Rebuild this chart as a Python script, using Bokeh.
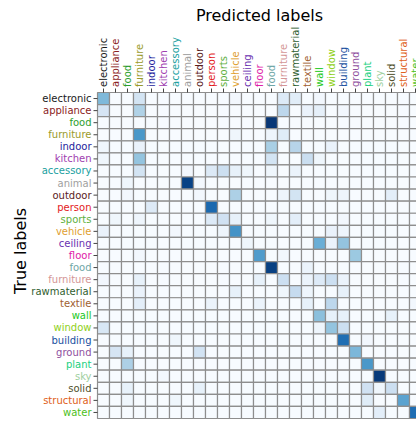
import numpy as np
from math import pi

from bokeh.plotting import figure
from bokeh.models import ColumnDataSource, Range1d, LinearColorMapper
from bokeh.palettes import Blues256
from bokeh.transform import transform
from bokeh.core.properties import value
from bokeh.embed import file_html
from bokeh.resources import INLINE

# Class names (rows = true, columns = predicted) and their label colours
classes = ["electronic", "appliance", "food", "furniture", "indoor", "kitchen",
           "accessory", "animal", "outdoor", "person", "sports", "vehicle",
           "ceiling", "floor", "food", "furniture", "rawmaterial", "textile",
           "wall", "window", "building", "ground", "plant", "sky", "solid",
           "structural", "water"]
class_colors = ["#1a1a1a", "#8b2323", "#2e9e2e", "#9a9a2a", "#23239c", "#a040b0",
                "#20a0a0", "#a0a0a0", "#5a1c1c", "#e31a1c", "#5fb040", "#e0a030",
                "#6a30b0", "#e020a8", "#6fa6a6", "#d49696", "#2f6030", "#a06030",
                "#22c822", "#8fd020", "#2050a0", "#9050a0", "#20d080", "#a0d0a0",
                "#4f4f2a", "#e06020", "#4cc020"]

# Normalised confusion rates (sparse: true index, predicted index, rate)
true_idx = [0, 0, 0, 0, 0, 0,
            1, 1, 1, 1, 1, 1,
            2,
            3, 3, 3, 3,
            4, 4, 4, 4, 4,
            5, 5, 5, 5, 5,
            6, 6, 6, 6, 6, 6, 6, 6,
            7, 7, 7,
            8, 8, 8, 8, 8, 8, 8, 8,
            9, 9,
            10, 10, 10, 10, 10, 10, 10, 10,
            11, 11, 11, 11, 11, 11,
            12, 12, 12, 12,
            13, 13, 13, 13,
            14, 14,
            15, 15, 15, 15, 15, 15, 15, 15,
            16, 16, 16, 16, 16, 16,
            17, 17, 17, 17, 17, 17,
            18, 18, 18, 18,
            19, 19, 19, 19,
            20, 20, 20,
            21, 21, 21, 21,
            22, 22,
            23, 23,
            24, 24, 24, 24, 24,
            25, 25, 25, 25,
            26, 26]
pred_idx = [0, 3, 11, 15, 16, 18,
            0, 3, 15, 17, 18, 20,
            14,
            3, 11, 14, 15,
            0, 3, 14, 16, 19,
            0, 3, 14, 17, 18,
            3, 7, 9, 10, 11, 12, 14, 16,
            2, 7, 8,
            2, 8, 11, 15, 16, 19, 20, 24,
            4, 9,
            1, 3, 9, 10, 11, 14, 16, 20,
            0, 6, 10, 11, 19, 20,
            12, 18, 19, 20,
            3, 13, 15, 21,
            14, 17,
            0, 3, 13, 15, 17, 18, 19, 20,
            3, 11, 15, 16, 17, 20,
            3, 9, 13, 17, 19, 26,
            18, 19, 20, 24,
            0, 18, 19, 20,
            6, 20, 22,
            1, 2, 8, 21,
            2, 22,
            5, 23,
            2, 8, 22, 23, 24,
            2, 6, 22, 25,
            23, 26]
rates = [0.45, 0.18, 0.03, 0.13, 0.11, 0.03,
         0.17, 0.32, 0.28, 0.07, 0.09, 0.03,
         0.97,
         0.60, 0.04, 0.05, 0.12,
         0.04, 0.07, 0.34, 0.30, 0.07,
         0.04, 0.40, 0.18, 0.23, 0.04,
         0.18, 0.03, 0.14, 0.22, 0.08, 0.04, 0.04, 0.06,
         0.04, 0.93, 0.03,
         0.03, 0.03, 0.33, 0.05, 0.18, 0.04, 0.05, 0.10,
         0.13, 0.78,
         0.04, 0.05, 0.13, 0.20, 0.08, 0.04, 0.10, 0.03,
         0.07, 0.03, 0.05, 0.62, 0.07, 0.05,
         0.04, 0.50, 0.06, 0.40,
         0.03, 0.58, 0.03, 0.38,
         0.94, 0.06,
         0.03, 0.08, 0.08, 0.22, 0.06, 0.13, 0.22, 0.06,
         0.07, 0.08, 0.04, 0.25, 0.05, 0.08,
         0.10, 0.06, 0.06, 0.08, 0.28, 0.03,
         0.42, 0.08, 0.08, 0.08,
         0.16, 0.05, 0.40, 0.22,
         0.04, 0.76, 0.03,
         0.17, 0.08, 0.19, 0.46,
         0.33, 0.60,
         0.02, 0.96,
         0.08, 0.08, 0.20, 0.04, 0.22,
         0.04, 0.04, 0.12, 0.55,
         0.10, 0.76]

n = len(classes)
matrix = np.zeros((n, n))
for r, c, v in zip(true_idx, pred_idx, rates):
    matrix[r, c] = v

# Page geometry (pixels): the whole canvas is the plot frame, the matrix
# sits in the lower right and the class names fill the margins.
W, H = 416, 423
LEFT, TOP, BOTTOM = 97, 92, 5
px_x = 12.0                              # pixels per column
px_y = (H - TOP - BOTTOM) / n            # pixels per row

x_range = Range1d(-LEFT / px_x, (W - LEFT) / px_x)
y_range = Range1d(n + BOTTOM / px_y, -TOP / px_y)   # row 0 at the top

p = figure(width=W, height=H, x_range=x_range, y_range=y_range,
           x_axis_type=None, y_axis_type=None,
           output_backend="svg", toolbar_location=None,
           min_border=0)
p.grid.visible = False
p.outline_line_color = None
p.background_fill_color = "white"
p.border_fill_color = "white"

rows, cols = np.meshgrid(np.arange(n), np.arange(n), indexing="ij")
cells = ColumnDataSource(dict(x=cols.ravel() + 0.5, y=rows.ravel() + 0.5,
                              rate=matrix.ravel()))
mapper = LinearColorMapper(palette=list(reversed(Blues256)), low=0.0, high=1.0)

p.rect("x", "y", 1, 1, source=cells,
       fill_color=transform("rate", mapper),
       line_color="#8e8e8e", line_width=1.2)

centers = np.arange(n) + 0.5
tick_x = 4 / px_x
tick_y = 4 / px_y

# Tick marks on the top and left edges of the matrix
p.segment(x0=centers, y0=np.zeros(n), x1=centers, y1=np.full(n, -tick_y),
          line_color="#444444", line_width=1)
p.segment(x0=np.zeros(n), y0=centers, x1=np.full(n, -tick_x), y1=centers,
          line_color="#444444", line_width=1)

FONT = value("DejaVu Sans")

col_src = ColumnDataSource(dict(x=centers, y=np.full(n, -5.5 / px_y),
                                name=classes, color=class_colors))
row_src = ColumnDataSource(dict(x=np.full(n, -6 / px_x), y=centers,
                                name=classes, color=class_colors))

# Predicted-class names, rotated, above the columns
p.text(x="x", y="y", text="name", source=col_src, angle=pi / 2,
       text_align="left", text_baseline="middle", text_color="color",
       text_font=FONT, text_font_size="10px")
# True-class names left of the rows
p.text(x="x", y="y", text="name", source=row_src,
       text_align="right", text_baseline="middle", text_color="color",
       text_font=FONT, text_font_size="10px")

# Axis titles
p.text(x=[n / 2], y=[(15 - TOP) / px_y], text=["Predicted labels"],
       text_align="center", text_baseline="middle", text_color="black",
       text_font=FONT, text_font_size="16px")
p.text(x=[(20 - LEFT) / px_x], y=[13.13], text=["True labels"], angle=pi / 2,
       text_align="center", text_baseline="middle", text_color="black",
       text_font=FONT, text_font_size="16px")

open("out.html", "w").write(file_html(p, INLINE))
